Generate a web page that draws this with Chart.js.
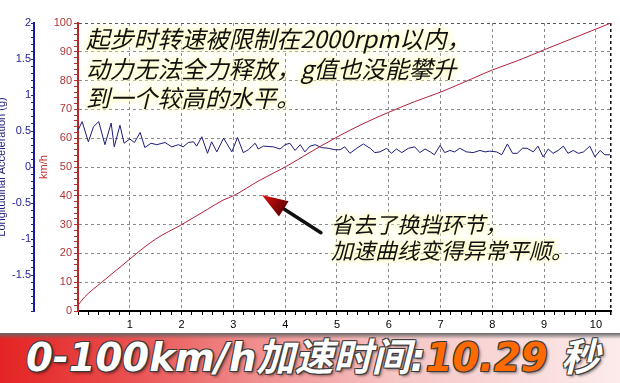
<!DOCTYPE html>
<html>
<head>
<meta charset="utf-8">
<script src="https://cdn.jsdelivr.net/npm/chart.js@4.4.1/dist/chart.umd.min.js"></script>
<style>
  html, body { margin: 0; padding: 0; background: #fff; }
  #wrap { position: relative; width: 620px; height: 383px; overflow: hidden; background: #fff; }
  #chart { position: absolute; left: 0; top: 0; }
  .note {
    position: absolute;
    font-family: "Noto Sans CJK SC", sans-serif;
    font-style: italic;
    color: #111;
    white-space: nowrap;
    text-shadow: 0 0 2px #ffffd8, 0 0 3px #ffffd0, 0 0 5px #fffbc4, 0 0 7px #fffbc4, 0 0 9px #fff8b8;
  }
  #note1 { left: 86px; top: 23px; font-size: 23.8px; line-height: 29.5px; }
  #note2 { left: 331px; top: 210px; font-size: 22px; line-height: 26px; }
  #banner {
    position: absolute; left: 0; top: 333px; width: 620px; height: 50px;
    box-sizing: border-box; padding-left: 26px;
    background: linear-gradient(to right, #e42424 0%, #e94848 18%, #f08a8a 40%, #f7c6c6 64%, #fcebeb 100%);
    font-family: "DejaVu Sans", "Noto Sans CJK SC", sans-serif;
    font-weight: bold; font-style: italic; font-size: 38.5px; line-height: 50px;
    color: #fff; white-space: nowrap;
    text-shadow: -1px -1px 0 #3a3a3a, 1px -1px 0 #3a3a3a, -1px 1px 0 #3a3a3a, 1px 1px 0 #3a3a3a, 2px 2px 3px rgba(0,0,0,0.5);
  }
  #banner::before {
    content: ""; position: absolute; left: 0; right: 0; top: 0; height: 6px;
    background: linear-gradient(#666, rgba(150,150,150,0));
  }
  #banner .num { color: #ff6a00; }
</style>
</head>
<body>
<div id="wrap">
  <canvas id="chart" width="620" height="333"></canvas>
  <div class="note" id="note1">起步时转速被限制在2000rpm以内，<br>动力无法全力释放，g值也没能攀升<br>到一个较高的水平。</div>
  <div class="note" id="note2">省去了换挡环节，<br>加速曲线变得异常平顺。</div>
  <div id="banner">0-100km/h加速时间:<span class="num">10.29</span> 秒</div>
</div>
<script>
// 车速曲线 (s, km/h)
const speedTime = [0, 0.13, 0.46, 1.04, 1.2, 1.5, 2.0, 2.5, 2.8, 3.0, 3.5, 4.0, 4.5, 5.0, 5.5, 6.0, 6.5, 7.0, 7.6, 8.0, 8.5, 9.0, 9.5, 10.0, 10.29];
const speedKmh  = [2, 4.9, 10, 18.6, 21, 25, 30, 35.3, 38.5, 40, 45.3, 50, 55.3, 60.4, 65, 69, 72.7, 76, 80.6, 83.7, 87, 90.7, 94.3, 97.9, 100];

// 纵向加速度 (s, g)
const accelTime = [0, 0.08, 0.2, 0.3, 0.4, 0.52, 0.64, 0.7, 0.81, 0.89, 1.0, 1.09, 1.2, 1.29, 1.41, 1.52, 1.68, 1.81, 1.94, 2.03,
  2.13, 2.23, 2.29, 2.39, 2.5, 2.58, 2.68, 2.81, 2.97, 3.08, 3.19, 3.29, 3.42, 3.48, 3.58, 3.77, 3.9, 4.0, 4.09, 4.19,
  4.29, 4.38, 4.48, 4.58, 4.7, 4.83, 4.96, 5.06, 5.15, 5.25, 5.38, 5.51, 5.64, 5.73, 5.83, 5.96, 6.05, 6.15, 6.25, 6.38,
  6.5, 6.6, 6.7, 6.8, 6.88, 6.99, 7.08, 7.18, 7.27, 7.37, 7.5, 7.63, 7.76, 7.86, 7.95, 8.08, 8.18, 8.29, 8.39, 8.48,
  8.58, 8.67, 8.79, 8.88, 8.98, 9.08, 9.17, 9.27, 9.37, 9.46, 9.56, 9.66, 9.76, 9.88, 9.98, 10.08, 10.17, 10.27];
const accelG = [0.51, 0.63, 0.35, 0.56, 0.63, 0.31, 0.61, 0.28, 0.58, 0.33, 0.39, 0.34, 0.48, 0.27, 0.33, 0.31, 0.34, 0.28, 0.31, 0.28,
  0.34, 0.35, 0.29, 0.42, 0.19, 0.35, 0.21, 0.40, 0.21, 0.41, 0.20, 0.24, 0.33, 0.25, 0.29, 0.28, 0.25, 0.31, 0.33, 0.23,
  0.31, 0.21, 0.29, 0.31, 0.27, 0.26, 0.24, 0.24, 0.28, 0.19, 0.26, 0.32, 0.26, 0.20, 0.21, 0.26, 0.19, 0.25, 0.20, 0.26,
  0.28, 0.20, 0.25, 0.21, 0.17, 0.30, 0.20, 0.23, 0.21, 0.26, 0.21, 0.20, 0.23, 0.21, 0.22, 0.21, 0.17, 0.32, 0.19, 0.19,
  0.26, 0.26, 0.21, 0.29, 0.14, 0.25, 0.19, 0.23, 0.29, 0.19, 0.23, 0.19, 0.21, 0.29, 0.14, 0.23, 0.17, 0.17];

const TIME_MAX = 10.29;

// 箭头 (起点/终点, 数据坐标)
const ARROW_TAIL = [4.69, 27.2];
const ARROW_TIP = [3.55, 40.3];

const isMult = (v, m) => Math.abs(v / m - Math.round(v / m)) < 1e-6;

const arrowPlugin = {
  id: 'arrow',
  afterDatasetsDraw(chart) {
    const { ctx, scales: { x, yKmh } } = chart;
    const sx = x.getPixelForValue(ARROW_TAIL[0]), sy = yKmh.getPixelForValue(ARROW_TAIL[1]);
    const tx = x.getPixelForValue(ARROW_TIP[0]), ty = yKmh.getPixelForValue(ARROW_TIP[1]);
    const ang = Math.atan2(ty - sy, tx - sx);
    const c = Math.cos(ang), s = Math.sin(ang);
    const headLen = 26, headW = 9;
    const bx = tx - headLen * c, by = ty - headLen * s;
    ctx.save();
    ctx.strokeStyle = '#111';
    ctx.lineWidth = 3.5;
    ctx.lineCap = 'round';
    ctx.beginPath();
    ctx.moveTo(sx, sy);
    ctx.lineTo(bx + 3 * c, by + 3 * s);
    ctx.stroke();
    const grad = ctx.createLinearGradient(bx, by, tx, ty);
    grad.addColorStop(0, '#6a0000');
    grad.addColorStop(1, '#e01414');
    ctx.fillStyle = grad;
    ctx.beginPath();
    ctx.moveTo(tx, ty);
    ctx.lineTo(bx - headW * s, by + headW * c);
    ctx.lineTo(bx + headW * s, by - headW * c);
    ctx.closePath();
    ctx.fill();
    ctx.restore();
  }
};

const tickFont = { family: '"Liberation Sans", Arial, sans-serif', size: 11 };

new Chart(document.getElementById('chart'), {
  type: 'line',
  data: {
    datasets: [
      {
        label: 'km/h',
        data: speedTime.map((t, i) => ({ x: t, y: speedKmh[i] })),
        yAxisID: 'yKmh',
        borderColor: '#b0203a',
        borderWidth: 1,
        pointRadius: 0,
        cubicInterpolationMode: 'monotone'
      },
      {
        label: 'Longitudinal Acceleration (g)',
        data: accelTime.map((t, i) => ({ x: t, y: accelG[i] })),
        yAxisID: 'yG',
        borderColor: '#1c1c78',
        borderWidth: 1,
        pointRadius: 0,
        tension: 0
      }
    ]
  },
  options: {
    responsive: false,
    animation: false,
    layout: { padding: { top: 23, right: 9, left: 0, bottom: 0 } },
    plugins: { legend: { display: false }, tooltip: { enabled: false } },
    scales: {
      x: {
        type: 'linear',
        min: 0,
        max: TIME_MAX,
        ticks: {
          stepSize: 0.2,
          autoSkip: false,
          maxRotation: 0,
          color: '#000',
          font: tickFont,
          padding: 3,
          callback: v => (v > 0 && isMult(v, 1)) ? String(Math.round(v)) : ''
        },
        grid: {
          color: c => {
            const v = c.tick ? c.tick.value : 0;
            if (Math.abs(v - TIME_MAX) < 1e-6) return '#111';
            return (v > 0 && isMult(v, 1)) ? '#8a8a8a' : 'rgba(0,0,0,0)';
          },
          lineWidth: c => (c.tick && Math.abs(c.tick.value - TIME_MAX) < 1e-6) ? 1.5 : 1,
          tickColor: '#000',
          tickLength: 4
        },
        border: { display: true, color: '#000', width: 2, dash: [3, 3] },
        afterFit: s => { s.height = 22; }
      },
      yKmh: {
        type: 'linear',
        position: 'left',
        weight: 1,
        min: 0,
        max: 100,
        ticks: {
          stepSize: 2,
          autoSkip: false,
          color: '#b03434',
          font: tickFont,
          padding: 2,
          callback: v => isMult(v, 10) ? String(Math.round(v)) : ''
        },
        grid: {
          color: c => {
            const v = c.tick ? c.tick.value : 0;
            if (v >= 100) return '#555';
            return (v > 0 && isMult(v, 10)) ? '#8a8a8a' : 'rgba(0,0,0,0)';
          },
          tickColor: '#b03434',
          tickLength: 4
        },
        border: { display: true, color: '#b52828', width: 2, dash: [3, 3] },
        title: { display: true, text: 'km/h', color: '#c03030', font: tickFont, padding: { top: 3, bottom: 0 } },
        afterFit: s => { s.width = 44; }
      },
      yG: {
        type: 'linear',
        position: 'left',
        weight: 2,
        min: -2,
        max: 2,
        ticks: {
          stepSize: 0.1,
          autoSkip: false,
          color: '#23239a',
          font: tickFont,
          padding: 0,
          callback: v => (v > -1.99 && isMult(v, 0.5)) ? String(Math.round(v * 10) / 10) : ''
        },
        grid: { drawOnChartArea: false, tickColor: '#23239a', tickLength: 3 },
        border: { display: true, color: '#1a1aa0', width: 2 },
        title: { display: true, text: 'Longitudinal Acceleration (g)', color: '#1c1c78', font: tickFont, padding: { top: -5, bottom: 0 } },
        afterFit: s => { s.width = 34; }
      }
    }
  },
  plugins: [arrowPlugin]
});
</script>
</body>
</html>
